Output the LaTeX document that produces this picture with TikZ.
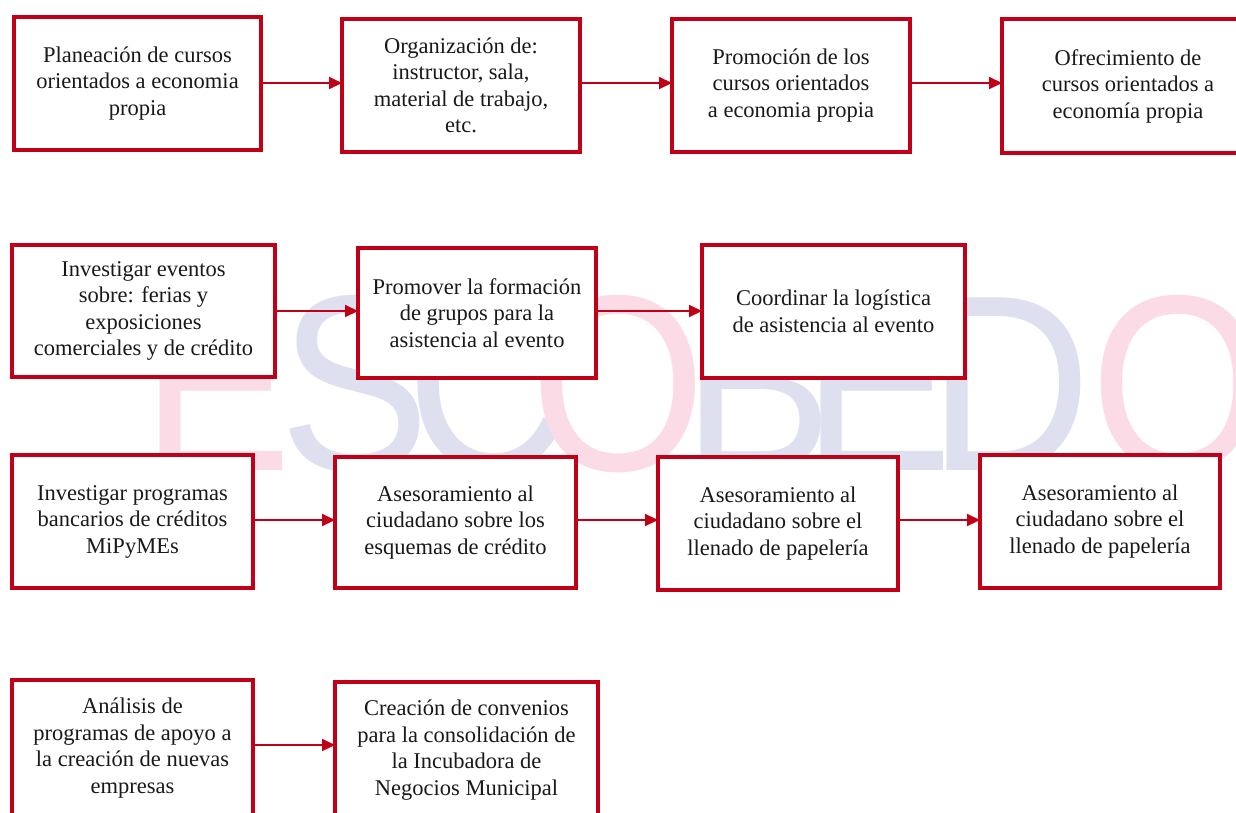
\documentclass[tikz,border=0pt]{standalone}
\usepackage{fontspec}
\setmainfont{Liberation Serif}
\newfontfamily\wmfont{Liberation Sans}
\usetikzlibrary{arrows.meta}
\definecolor{boxred}{RGB}{192,0,22}
\definecolor{wmblue}{RGB}{222,224,240}
\definecolor{wmpink}{RGB}{251,220,230}
\definecolor{txtcol}{RGB}{25,25,25}
\begin{document}
\begin{tikzpicture}[x=1pt,y=-1pt,
  box/.style={draw=boxred, line width=4pt, fill=white, align=center, text=txtcol,
    inner sep=0pt, outer sep=0pt, font=\fontsize{22.5}{26.5}\selectfont},
  link/.style={draw=boxred, line width=2pt, -{Triangle[length=13pt,width=12pt]}},
  wm/.style={anchor=base, inner sep=0pt, font=\wmfont\fontsize{251}{251}\selectfont, xscale=0.9}]
\useasboundingbox (0,0) rectangle (1236,812);
\clip (0,0) rectangle (1236,812);
\fill[white] (0,0) rectangle (1236,812);
% watermark
\node[wm, text=wmpink] (w1) at (217,470) {E};
\node[wm, text=wmblue] (w2) at (355,470) {S};
\node[wm, text=wmblue] (w3) at (488,470) {C};
\node[wm, text=wmpink] (w4) at (618,470) {O};
\node[wm, text=wmblue] (w5) at (758,470) {B};
\node[wm, text=wmblue] (w6) at (878,470) {E};
\node[wm, text=wmblue] (w7) at (1010,470) {D};
\node[wm, text=wmpink] (w8) at (1178,470) {O};
% row 1
\node[box, minimum width=247pt, minimum height=133pt] (b1) at (137.5,83.5) {Planeación de cursos\\orientados a economia\\propia};
\node[box, minimum width=238pt, minimum height=133pt] (b2) at (461,85.5) {Organización de:\\instructor, sala,\\material de trabajo,\\etc.};
\node[box, minimum width=238pt, minimum height=133pt] (b3) at (791,85.5) {Promoción de los\\cursos orientados\\a economia propia};
\node[box, minimum width=252pt, minimum height=134pt] (b4) at (1128,86) {Ofrecimiento de\\cursos orientados a\\economía propia};
% row 2
\node[box, minimum width=263pt, minimum height=132pt] (c1) at (143.5,311) {Investigar eventos\\sobre: ferias y\\exposiciones\\comerciales y de crédito};
\node[box, minimum width=238pt, minimum height=130pt] (c2) at (477,313) {Promover la formación\\de grupos para la\\asistencia al evento};
\node[box, minimum width=263pt, minimum height=133pt] (c3) at (833.5,311.5) {Coordinar la logística\\de asistencia al evento};
% row 3
\node[box, minimum width=241pt, minimum height=133pt] (d1) at (132.5,521.5) {Investigar programas\\bancarios de créditos\\MiPyMEs};
\node[box, minimum width=241pt, minimum height=131pt] (d2) at (455.5,522.5) {Asesoramiento al\\ciudadano sobre los\\esquemas de crédito};
\node[box, minimum width=240pt, minimum height=133pt] (d3) at (778,523.5) {Asesoramiento al\\ciudadano sobre el\\llenado de papelería};
\node[box, minimum width=240pt, minimum height=133pt] (d4) at (1100,521.5) {Asesoramiento al\\ciudadano sobre el\\llenado de papelería};
% row 4
\node[box, minimum width=241pt, minimum height=136pt] (e1) at (132.5,748) {Análisis de\\programas de apoyo a\\la creación de nuevas\\empresas};
\node[box, minimum width=263pt, minimum height=136pt] (e2) at (466.5,750) {Creación de convenios\\para la consolidación de\\la Incubadora de\\Negocios Municipal};
% connectors
\draw[link] (b1.east |- 0,83) -- (b2.west |- 0,83);
\draw[link] (b2.east |- 0,83) -- (b3.west |- 0,83);
\draw[link] (b3.east |- 0,83) -- (b4.west |- 0,83);
\draw[link] (c1.east |- 0,311) -- (c2.west |- 0,311);
\draw[link] (c2.east |- 0,311) -- (c3.west |- 0,311);
\draw[link] (d1.east |- 0,520) -- (d2.west |- 0,520);
\draw[link] (d2.east |- 0,520) -- (d3.west |- 0,520);
\draw[link] (d3.east |- 0,520) -- (d4.west |- 0,520);
\draw[link] (e1.east |- 0,745) -- (e2.west |- 0,745);
\end{tikzpicture}
\end{document}
